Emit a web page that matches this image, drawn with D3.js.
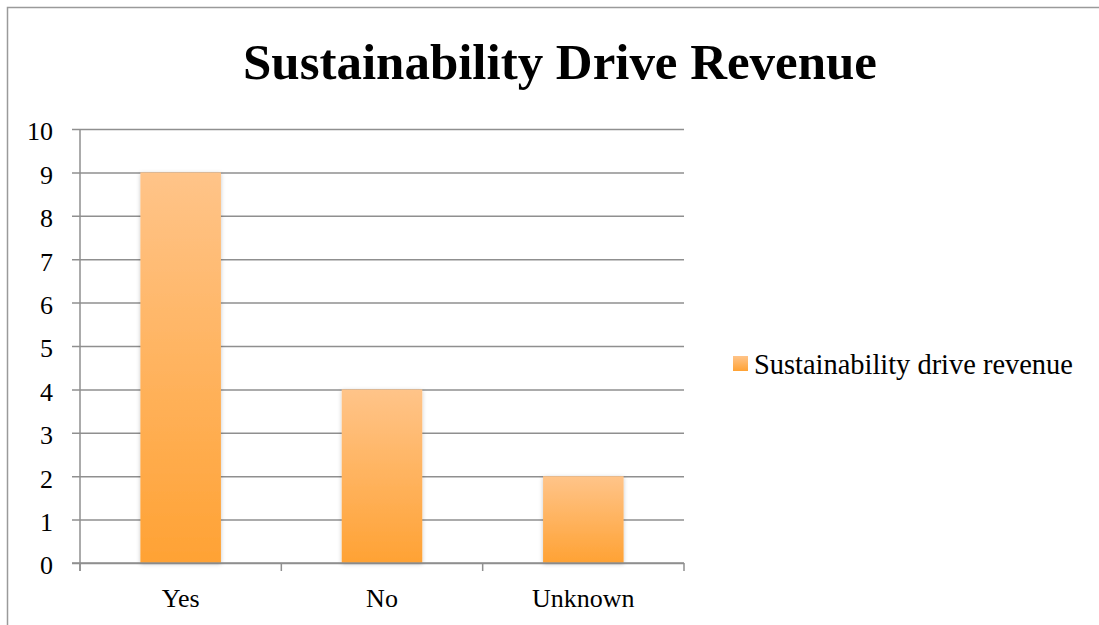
<!DOCTYPE html>
<html>
<head>
<meta charset="utf-8">
<script src="https://cdn.jsdelivr.net/npm/d3@7"></script>
<style>
  html, body { margin: 0; padding: 0; background: #fff; }
  svg { display: block; }
  text { font-family: "Liberation Serif", "DejaVu Serif", serif; fill: #000; }
</style>
</head>
<body>
<svg id="chart" width="1099" height="625"></svg>
<script>
// Chart data
const categories = ["Yes", "No", "Unknown"];
const values = [9, 4, 2];
const yTicks = [0, 1, 2, 3, 4, 5, 6, 7, 8, 9, 10];
const seriesName = "Sustainability drive revenue";
const chartTitle = "Sustainability Drive Revenue";

const svg = d3.select("#chart");
const W = 1099, H = 625;
const FONT = "Liberation Serif, serif";

// Outer chart frame (top and left edges visible)
svg.append("path")
  .attr("d", `M7.5,${H} L7.5,7.5 L${W},7.5`)
  .attr("fill", "none")
  .attr("stroke", "#9a9a9a")
  .attr("stroke-width", 1.5);

const plot = { left: 80, right: 684, top: 129, bottom: 563 };

const x = d3.scaleBand()
  .domain(categories)
  .range([plot.left, plot.right])
  .paddingInner(0.6)
  .paddingOuter(0.3);

const y = d3.scaleLinear()
  .domain([0, 10])
  .range([plot.bottom, plot.top]);

// Defs: bar gradient and soft side shadow
const defs = svg.append("defs");
const grad = defs.append("linearGradient")
  .attr("id", "barGrad")
  .attr("x1", 0).attr("y1", 0).attr("x2", 0).attr("y2", 1);
grad.append("stop").attr("offset", "0%").attr("stop-color", "#ffc489");
grad.append("stop").attr("offset", "100%").attr("stop-color", "#ffa234");

const shadow = defs.append("filter")
  .attr("id", "barShadow")
  .attr("x", "-20%").attr("y", "-5%").attr("width", "140%").attr("height", "110%");
shadow.append("feDropShadow")
  .attr("dx", 0).attr("dy", 1)
  .attr("stdDeviation", 2)
  .attr("flood-color", "#000")
  .attr("flood-opacity", 0.22);

// Horizontal gridlines with outward ticks
const yAxis = d3.axisLeft(y)
  .tickValues(yTicks)
  .tickSize(-(plot.right - plot.left))
  .tickPadding(27)
  .tickFormat(d3.format("d"));

const gy = svg.append("g")
  .attr("transform", `translate(${plot.left},0)`)
  .call(yAxis);
gy.select(".domain").remove();
gy.selectAll(".tick line")
  .attr("x1", -8)
  .attr("stroke", "#8f8f8f")
  .attr("stroke-width", 1.5);
gy.selectAll(".tick text")
  .attr("x", -27)
  .attr("dy", "0.42em")
  .attr("font-size", 26)
  .attr("font-family", FONT)
  .attr("fill", "#000");

// Vertical axis line
svg.append("line")
  .attr("x1", plot.left).attr("x2", plot.left)
  .attr("y1", plot.top).attr("y2", plot.bottom + 8)
  .attr("stroke", "#8f8f8f")
  .attr("stroke-width", 1.5);

// Bars
svg.append("g")
  .selectAll("rect")
  .data(values)
  .join("rect")
  .attr("x", (d, i) => x(categories[i]))
  .attr("width", x.bandwidth())
  .attr("y", d => y(d))
  .attr("height", d => y(0) - y(d))
  .attr("fill", "url(#barGrad)")
  .attr("filter", "url(#barShadow)");

// Category axis
const xAxis = d3.axisBottom(x).tickSize(0).tickPadding(26);
const gx = svg.append("g")
  .attr("transform", `translate(0,${plot.bottom})`)
  .call(xAxis);
gx.select(".domain").remove();
gx.selectAll(".tick text")
  .attr("font-size", 26)
  .attr("font-family", FONT)
  .attr("fill", "#000");

// Baseline and category boundary ticks
svg.append("line")
  .attr("x1", plot.left - 8).attr("x2", plot.right)
  .attr("y1", plot.bottom).attr("y2", plot.bottom)
  .attr("stroke", "#8f8f8f").attr("stroke-width", 1.5);
const step = (plot.right - plot.left) / categories.length;
svg.append("g")
  .selectAll("line")
  .data(d3.range(categories.length + 1))
  .join("line")
  .attr("x1", i => plot.left + i * step)
  .attr("x2", i => plot.left + i * step)
  .attr("y1", plot.bottom)
  .attr("y2", plot.bottom + 8)
  .attr("stroke", "#8f8f8f").attr("stroke-width", 1.5);

// Title, fitted to its width
const title = svg.append("text")
  .attr("x", 560)
  .attr("y", 79)
  .attr("text-anchor", "middle")
  .attr("font-weight", "bold")
  .attr("font-size", 44)
  .text(chartTitle);
const tw = title.node().getComputedTextLength();
title.attr("font-size", 44 * 634 / tw);

// Legend
const legend = svg.append("g").attr("transform", "translate(733,356)");
legend.append("rect")
  .attr("width", 15).attr("height", 15)
  .attr("fill", "url(#barGrad)");
const lt = legend.append("text")
  .attr("x", 21)
  .attr("y", 18)
  .attr("font-size", 25)
  .text(seriesName);
const lw = lt.node().getComputedTextLength();
lt.attr("font-size", 25 * 319 / lw);
</script>
</body>
</html>
